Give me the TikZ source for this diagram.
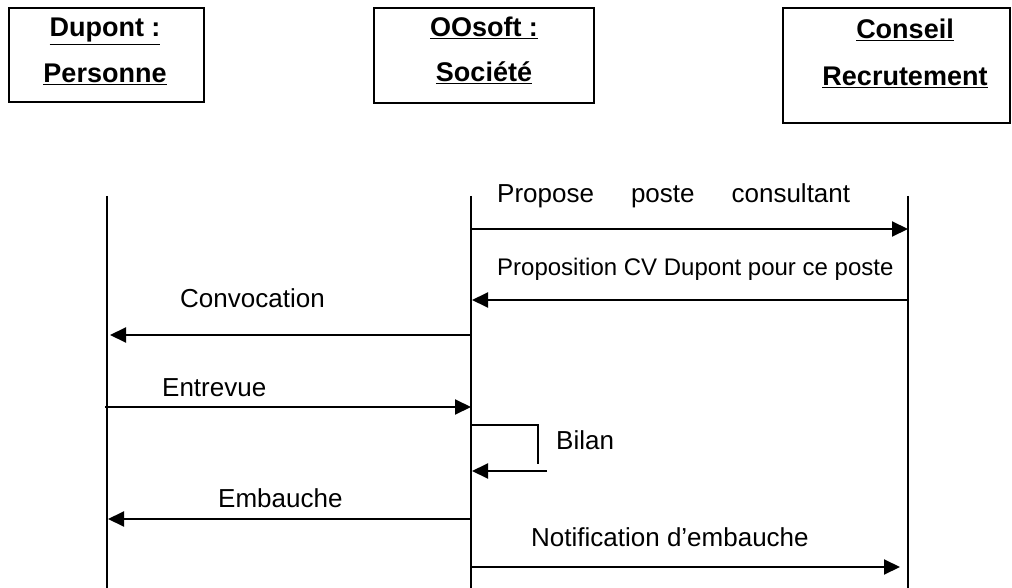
\documentclass[tikz,border=0pt]{standalone}
\usepackage{fontspec}
\setmainfont{Liberation Sans}
\usetikzlibrary{arrows.meta}
\begin{document}
\begin{tikzpicture}[x=1pt,y=-1pt,
  objbox/.style={draw,line width=2pt,rectangle,inner sep=0pt},
  hdr/.style={anchor=base,inner sep=0pt,font=\fontsize{27}{31}\selectfont\bfseries},
  lbl/.style={anchor=base west,inner sep=0pt,font=\fontsize{26}{30}\selectfont},
  lblsm/.style={anchor=base west,inner sep=0pt,font=\fontsize{24}{28}\selectfont},
  life/.style={line width=2pt},
  msg/.style={line width=2pt,-{Triangle[length=16pt,width=15pt]}},
  plain/.style={line width=2pt}]
\useasboundingbox (0,0) rectangle (1012,588);
% object boxes
\node[objbox,minimum width=195pt,minimum height=94pt] (b1) at (106.5,55.5) {};
\node[objbox,minimum width=220pt,minimum height=95pt] (b2) at (484,55.5) {};
\node[objbox,minimum width=227pt,minimum height=115pt] (b3) at (896.5,65.5) {};
\node[hdr] (t1a) at (105,37) {\underline{Dupont :}};
\node[hdr] (t1b) at (105,83) {\underline{Personne}};
\node[hdr] (t2a) at (484,37) {\underline{OOsoft :}};
\node[hdr] (t2b) at (484,82) {\underline{Société}};
\node[hdr] (t3a) at (905,39) {\underline{Conseil}};
\node[hdr] (t3b) at (905,86) {\underline{Recrutement}};
% lifelines
\coordinate (l1t) at (107,196); \coordinate (l1b) at (107,588);
\coordinate (l2t) at (471,196); \coordinate (l2b) at (471,588);
\coordinate (l3t) at (908,196); \coordinate (l3b) at (908,588);
\draw[life] (l1t) -- (l1b);
\draw[life] (l2t) -- (l2b);
\draw[life] (l3t) -- (l3b);
% message endpoints
\coordinate (m1s) at (471,229); \coordinate (m1e) at (908,229);
\coordinate (m2s) at (908,300); \coordinate (m2e) at (472,300);
\coordinate (m3s) at (471,335); \coordinate (m3e) at (110,335);
\coordinate (m4s) at (105,407); \coordinate (m4e) at (471,407);
\coordinate (bl1) at (471,425); \coordinate (bl2) at (538,425); \coordinate (bl3) at (538,464);
\coordinate (m5s) at (547,471); \coordinate (m5e) at (472,471);
\coordinate (m6s) at (471,519); \coordinate (m6e) at (108,519);
\coordinate (m7s) at (471,567); \coordinate (m7e) at (900,567);
% messages
\draw[msg] (m1s) -- (m1e);
\draw[msg] (m2s) -- (m2e);
\draw[msg] (m3s) -- (m3e);
\draw[msg] (m4s) -- (m4e);
\draw[plain] (bl1) -- (bl2) -- (bl3);
\draw[msg] (m5s) -- (m5e);
\draw[msg] (m6s) -- (m6e);
\draw[msg] (m7s) -- (m7e);
% labels
\node[lbl] (lab1) at (497,203) {Propose\hspace{37pt}poste\hspace{37pt}consultant};
\node[lblsm] (lab2) at (497,275) {Proposition CV Dupont pour ce poste};
\node[lbl] (lab3) at (180,307) {Convocation};
\node[lbl] (lab4) at (162,396) {Entrevue};
\node[lbl] (lab5) at (556,449) {Bilan};
\node[lbl] (lab6) at (218,507) {Embauche};
\node[lbl] (lab7) at (531,546) {Notification d’embauche};
\end{tikzpicture}
\end{document}
